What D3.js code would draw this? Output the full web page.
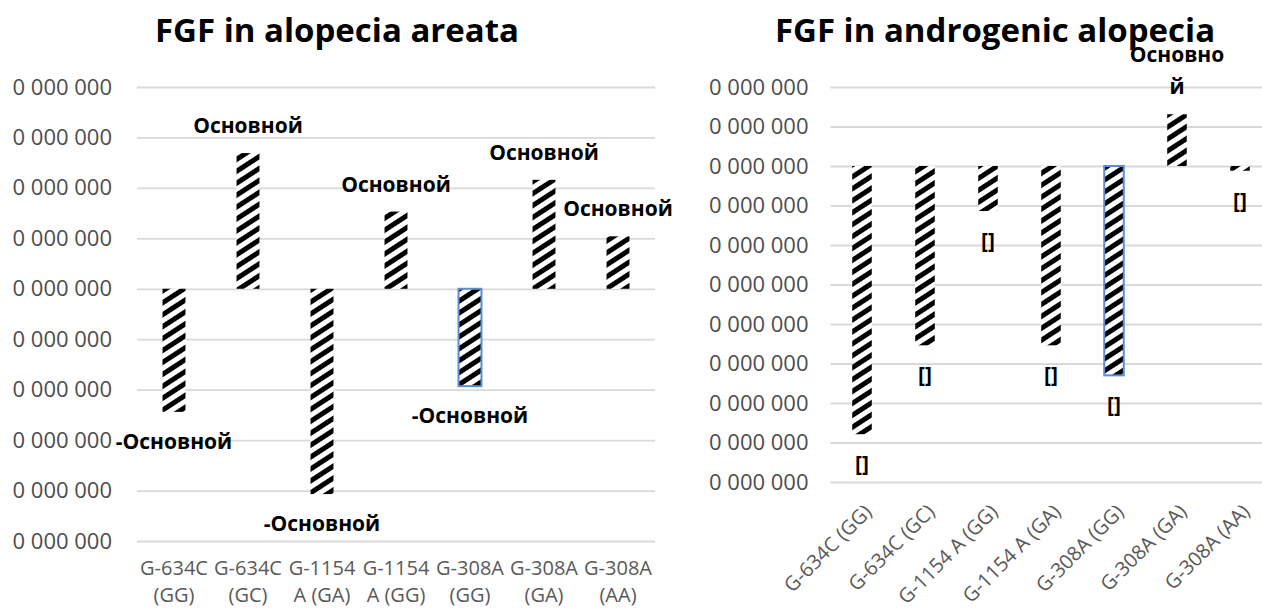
<!DOCTYPE html>
<html>
<head>
<meta charset="utf-8">
<script src="https://cdn.jsdelivr.net/npm/d3@7"></script>
<style>
  html, body { margin: 0; padding: 0; background: #fff; }
  svg { display: block; font-family: "Open Sans", "Noto Sans", sans-serif; }
</style>
</head>
<body>
<svg id="chart" width="1262" height="610"></svg>
<script>
// ---- data: alopecia areata ----
const areataTitle = "FGF in alopecia areata";
const areataCategories = ["G-634C (GG)", "G-634C (GC)", "G-1154 A (GA)", "G-1154 A (GG)", "G-308A (GG)", "G-308A (GA)", "G-308A (AA)"];
const areataValues = [-2.44, 2.69, -4.07, 1.53, -1.93, 2.16, 1.04];
const areataLabels = ["-Основной", "Основной", "-Основной", "Основной", "-Основной", "Основной", "Основной"];
const areataTicks = [-5, -4, -3, -2, -1, 0, 1, 2, 3, 4];

// ---- data: androgenic alopecia ----
const androTitle = "FGF in androgenic alopecia";
const androCategories = ["G-634C (GG)", "G-634C (GC)", "G-1154 A (GG)", "G-1154 A (GA)", "G-308A (GG)", "G-308A (GA)", "G-308A (AA)"];
const androValues = [-6.79, -4.54, -1.14, -4.54, -5.30, 1.31, -0.12];
const androLabels = ["[]", "[]", "[]", "[]", "[]", "Основной", "[]"];
const androTicks = [-8, -7, -6, -5, -4, -3, -2, -1, 0, 1, 2];

// every value-axis tick carries the same number format
const tickText = "0 000 000";
// bar drawn with an outline in both charts
const outlinedCategory = "G-308A (GG)";

const svg = d3.select("#chart");

// diagonal hatch fill
const defs = svg.append("defs");
const hatch = defs.append("pattern")
  .attr("id", "hatch")
  .attr("patternUnits", "userSpaceOnUse")
  .attr("width", 10).attr("height", 10)
  .attr("patternTransform", "rotate(-33)");
hatch.append("rect").attr("width", 10).attr("height", 10).attr("fill", "#fff");
hatch.append("rect").attr("width", 10).attr("height", 5).attr("fill", "#000");

// split a label into lines no wider than maxWidth
function wrapLabel(parent, str, maxWidth, fontSize) {
  const probe = parent.append("text").attr("font-size", fontSize).attr("font-weight", 700);
  const lines = [];
  let rest = str;
  while (rest.length) {
    let n = rest.length;
    probe.text(rest.slice(0, n));
    while (n > 1 && probe.node().getComputedTextLength() > maxWidth) {
      n--;
      probe.text(rest.slice(0, n));
    }
    lines.push(rest.slice(0, n));
    rest = rest.slice(n);
  }
  probe.remove();
  return lines;
}

function drawPanel(cfg) {
  const g = svg.append("g");

  const x = d3.scaleBand()
    .domain(cfg.categories)
    .range(cfg.xRange)
    .paddingInner(0.69)
    .paddingOuter(0.345);

  const y = d3.scaleLinear()
    .domain(d3.extent(cfg.ticks))
    .range(cfg.yRange);

  // title
  g.append("text")
    .attr("x", cfg.titleX).attr("y", 42)
    .attr("text-anchor", "middle")
    .attr("font-size", 33).attr("font-weight", 700)
    .attr("fill", "#000")
    .text(cfg.title);

  // value axis with gridlines
  const yAxis = g.append("g")
    .attr("transform", `translate(${cfg.xRange[0]},0)`)
    .call(d3.axisLeft(y)
      .tickValues(cfg.ticks)
      .tickFormat(() => tickText)
      .tickSize(-(cfg.xRange[1] - cfg.xRange[0]))
      .tickPadding(cfg.tickPad));
  yAxis.select(".domain").remove();
  yAxis.selectAll(".tick line").attr("stroke", "#d9d9d9").attr("stroke-width", 1.8);
  yAxis.selectAll(".tick text")
    .attr("font-size", 22).attr("fill", "#4d4d4d")
    .attr("font-family", "'Open Sans', sans-serif");

  // bars
  g.append("g").selectAll("rect")
    .data(cfg.categories.map((c, i) => ({ c, v: cfg.values[i] })))
    .join("rect")
    .attr("x", d => x(d.c))
    .attr("width", x.bandwidth())
    .attr("y", d => y(Math.max(0, d.v)))
    .attr("height", d => Math.abs(y(d.v) - y(0)))
    .attr("fill", "url(#hatch)")
    .attr("stroke", d => d.c === outlinedCategory ? "#5b8ed0" : "none")
    .attr("stroke-width", 2);

  // data labels
  const lbl = g.append("g")
    .attr("font-size", 21).attr("font-weight", 700)
    .attr("fill", "#000").attr("text-anchor", "middle");
  cfg.categories.forEach((c, i) => {
    const v = cfg.values[i];
    const cx = x(c) + x.bandwidth() / 2;
    const lines = wrapLabel(g, cfg.labels[i], cfg.labelMaxWidth, 21);
    if (v >= 0) {
      const base = y(v) - 20;
      lines.forEach((ln, k) => {
        lbl.append("text")
          .attr("x", cx)
          .attr("y", base - (lines.length - 1 - k) * 32)
          .text(ln);
      });
    } else {
      const base = y(v) + 37;
      lines.forEach((ln, k) => {
        lbl.append("text").attr("x", cx).attr("y", base + k * 32).text(ln);
      });
    }
  });

  // category labels
  const cat = g.append("g").attr("font-size", 20).attr("fill", "#595959");
  cfg.categories.forEach(c => {
    const cx = x(c) + x.bandwidth() / 2;
    if (cfg.rotated) {
      cat.append("text")
        .attr("transform", `translate(${cx + 6},508) rotate(-45)`)
        .attr("text-anchor", "end")
        .attr("dy", "0.35em")
        .text(c);
    } else {
      const sp = c.indexOf(" ");
      const t = cat.append("text").attr("text-anchor", "middle");
      t.append("tspan").attr("x", cx).attr("y", 575).text(c.slice(0, sp));
      t.append("tspan").attr("x", cx).attr("y", 602).text(c.slice(sp + 1));
    }
  });
}

drawPanel({
  title: areataTitle, titleX: 337,
  categories: areataCategories, values: areataValues, labels: areataLabels,
  ticks: areataTicks,
  xRange: [137, 655], yRange: [541, 87],
  tickPad: 25, rotated: false, labelMaxWidth: 200
});

drawPanel({
  title: androTitle, titleX: 995,
  categories: androCategories, values: androValues, labels: androLabels,
  ticks: androTicks,
  xRange: [830.5, 1271.5], yRange: [482, 87],
  tickPad: 22, rotated: true, labelMaxWidth: 100
});
</script>
</body>
</html>
